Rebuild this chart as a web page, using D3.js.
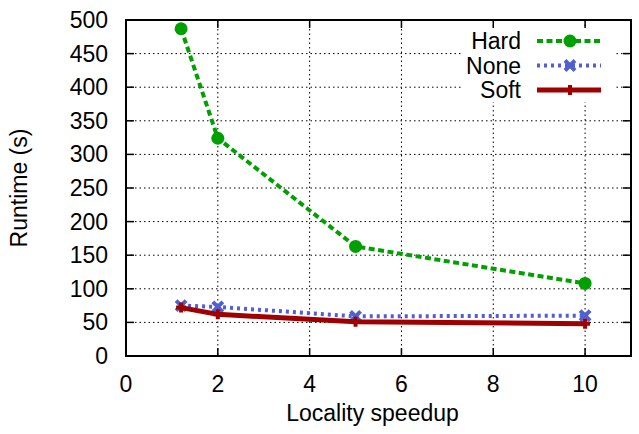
<html>
<head>
  <script src="https://d3js.org/d3.v7.min.js"></script>
  <style>
    body { margin: 0; background: #fff; }
    text { font-family: "Liberation Sans", Arial, sans-serif; fill: #000; font-size: 23px; }
    .grid line { stroke: #000; stroke-width: 1; stroke-dasharray: 1.5,3; }
  </style>
</head>
<body>
  <svg id="chart" width="639" height="434"></svg>
  <script>
    // values
    const speedups = [1.2, 2, 5, 10];
    const hard = [487, 324, 163, 108];
    const none = [75, 73, 59, 60];
    const soft = [72, 62, 51, 48];
    const xTicks = [0, 2, 4, 6, 8, 10];
    const yTicks = [0, 50, 100, 150, 200, 250, 300, 350, 400, 450, 500];

    const series = [
      { name: "Hard", values: hard, color: "#00a000", width: 4, dash: "6,3.5", marker: "circle" },
      { name: "None", values: none, color: "#5060d0", width: 4, dash: "3,4", marker: "cross" },
      { name: "Soft", values: soft, color: "#a00000", width: 5, dash: null, marker: "plus" }
    ];

    const svg = d3.select("svg#chart");
    const margin = { top: 20, right: 8, bottom: 78, left: 126 };
    const width = 639 - margin.left - margin.right;
    const height = 434 - margin.top - margin.bottom;
    const g = svg.append("g").attr("transform", "translate(" + margin.left + "," + margin.top + ")");

    const x = d3.scaleLinear().domain([0, 11]).range([0, width]);
    const y = d3.scaleLinear().domain([0, 500]).range([height, 0]);

    // dotted grid
    const grid = g.append("g").attr("class", "grid");
    grid.selectAll(".gx").data(xTicks.filter(d => d > 0)).join("line")
      .attr("x1", d => x(d)).attr("x2", d => x(d))
      .attr("y1", 0).attr("y2", height);
    grid.selectAll(".gy").data(yTicks.filter(d => d > 0 && d < 500)).join("line")
      .attr("x1", 0).attr("x2", width)
      .attr("y1", d => y(d)).attr("y2", d => y(d));

    // opaque key box covers the grid
    const keyX = 336, keyY = 6;
    g.append("rect")
      .attr("x", keyX).attr("y", keyY)
      .attr("width", 154).attr("height", 76)
      .attr("fill", "#fff");

    function drawMarker(sel, type, color) {
      if (type === "circle") {
        sel.append("circle").attr("r", 6.5).attr("fill", color);
      } else if (type === "cross") {
        sel.append("path").attr("d", "M-5,-5L5,5M-5,5L5,-5")
          .attr("stroke", color).attr("stroke-width", 4).attr("fill", "none");
      } else {
        sel.append("path").attr("d", "M-5,0L5,0M0,-5L0,5")
          .attr("stroke", color).attr("stroke-width", 4).attr("fill", "none");
      }
    }

    const line = d3.line().x((d, i) => x(speedups[i])).y(d => y(d));

    series.forEach(s => {
      g.append("path")
        .attr("d", line(s.values))
        .attr("fill", "none")
        .attr("stroke", s.color)
        .attr("stroke-width", s.width)
        .attr("stroke-dasharray", s.dash)
        .attr("stroke-linejoin", "round");
      s.values.forEach((v, i) => {
        const m = g.append("g").attr("transform", "translate(" + x(speedups[i]) + "," + y(v) + ")");
        drawMarker(m, s.marker, s.color);
      });
    });

    // border + inward ticks on all sides
    const tickLen = 8;
    const ticks = g.append("g").attr("stroke", "#000").attr("stroke-width", 1.5);
    xTicks.filter(d => d > 0).forEach(d => {
      ticks.append("line").attr("x1", x(d)).attr("x2", x(d)).attr("y1", height).attr("y2", height - tickLen);
      ticks.append("line").attr("x1", x(d)).attr("x2", x(d)).attr("y1", 0).attr("y2", tickLen);
    });
    yTicks.filter(d => d > 0 && d < 500).forEach(d => {
      ticks.append("line").attr("x1", 0).attr("x2", tickLen).attr("y1", y(d)).attr("y2", y(d));
      ticks.append("line").attr("x1", width).attr("x2", width - tickLen).attr("y1", y(d)).attr("y2", y(d));
    });
    g.append("rect")
      .attr("width", width).attr("height", height)
      .attr("fill", "none").attr("stroke", "#000").attr("stroke-width", 2);

    // tick labels
    g.selectAll(".xl").data(xTicks).join("text")
      .attr("x", d => x(d)).attr("y", height + 36)
      .attr("text-anchor", "middle")
      .text(d => d);
    g.selectAll(".yl").data(yTicks).join("text")
      .attr("x", -18).attr("y", d => y(d) + 8)
      .attr("text-anchor", "end")
      .text(d => d);

    // axis titles
    g.append("text")
      .attr("x", width / 2 - 6).attr("y", height + 65)
      .attr("text-anchor", "middle")
      .text("Locality speedup");
    g.append("text")
      .attr("transform", "translate(" + (-99) + "," + (height / 2) + ") rotate(-90)")
      .attr("text-anchor", "middle")
      .text("Runtime (s)");

    // key
    series.forEach((s, i) => {
      const ky = 21 + i * 24.5;
      g.append("text")
        .attr("x", 395).attr("y", ky + 8)
        .attr("text-anchor", "end")
        .text(s.name);
      g.append("line")
        .attr("x1", 411).attr("x2", 475)
        .attr("y1", ky).attr("y2", ky)
        .attr("stroke", s.color).attr("stroke-width", s.width)
        .attr("stroke-dasharray", s.dash);
      const m = g.append("g").attr("transform", "translate(444," + ky + ")");
      drawMarker(m, s.marker, s.color);
    });
  </script>
</body>
</html>
